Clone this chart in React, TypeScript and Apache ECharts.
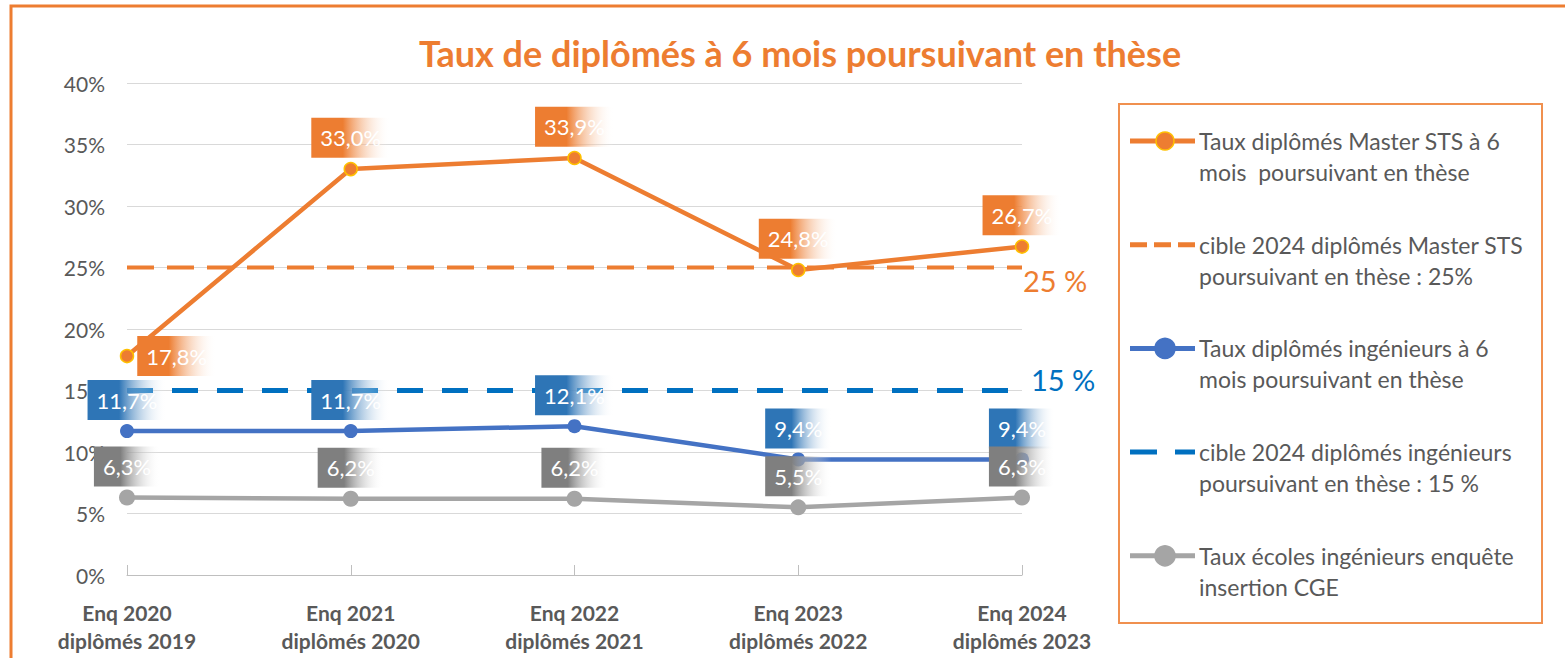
import React, { useEffect, useRef } from 'react';
import * as echarts from 'echarts';

const categories = [
  'Enq 2020\ndiplômés 2019',
  'Enq 2021\ndiplômés 2020',
  'Enq 2022\ndiplômés 2021',
  'Enq 2023\ndiplômés 2022',
  'Enq 2024\ndiplômés 2023',
];
const masterSTS = [17.8, 33.0, 33.9, 24.8, 26.7];
const ingenieurs = [11.7, 11.7, 12.1, 9.4, 9.4];
const ecolesCGE = [6.3, 6.2, 6.2, 5.5, 6.3];
const cibleMaster = [25, 25, 25, 25, 25];
const cibleIngenieurs = [15, 15, 15, 15, 15];

const yMin = 0;
const yMax = 40;
const yInterval = 5;

const titleText = 'Taux de diplômés à 6 mois poursuivant en thèse';
const seriesNames = [
  'Taux diplômés Master STS à 6\nmois  poursuivant en thèse',
  'cible 2024 diplômés Master STS\npoursuivant en thèse : 25%',
  'Taux diplômés ingénieurs à 6\nmois poursuivant en thèse',
  'cible 2024 diplômés ingénieurs\npoursuivant en thèse : 15 %',
  'Taux écoles ingénieurs enquête\ninsertion CGE',
];
const targetLabels = ['25 %', '15 %'];

const ORANGE = '#ED7D31';
const BLUE = '#4472C4';
const TBLUE = '#0070C0';
const GRAY = '#A5A5A5';
const TEXT = '#595959';
const FONT = 'Lato';

const grad = (c: string) =>
  new echarts.graphic.LinearGradient(0, 0, 1, 0, [
    { offset: 0, color: c },
    { offset: 0.4, color: c },
    { offset: 1, color: 'rgba(255,255,255,0)' },
  ]);

const fmt = (p: any) => Number(p.value).toFixed(1).replace('.', ',') + '%';

const labelBase = (c: string, distance: number) => ({
  show: true,
  position: 'top',
  distance,
  formatter: fmt,
  color: '#fff',
  fontSize: 22,
  fontFamily: FONT,
  lineHeight: 24,
  padding: [8, 9, 8, 9],
  backgroundColor: grad(c),
});

export default function App() {
  const ref = useRef<HTMLDivElement>(null);
  useEffect(() => {
    if (!ref.current) return;
    const chart = echarts.init(ref.current, undefined, { renderer: 'svg' });

    const legendItems = [
      { color: ORANGE, width: 5, dash: null, marker: { r: 9, fill: ORANGE, stroke: '#FFC000' } },
      { color: ORANGE, width: 5, dash: [17, 7], marker: null },
      { color: BLUE, width: 5, dash: null, marker: { r: 10, fill: BLUE, stroke: BLUE } },
      { color: TBLUE, width: 5, dash: [27, 18], marker: null },
      { color: GRAY, width: 5, dash: null, marker: { r: 10, fill: GRAY, stroke: GRAY } },
    ];
    const legendGraphics: any[] = [];
    legendItems.forEach((it, i) => {
      const y0 = 141 + i * 103.7;
      legendGraphics.push({
        type: 'line',
        shape: { x1: 1130, y1: y0, x2: 1195, y2: y0 },
        style: { stroke: it.color, lineWidth: it.width, lineDash: it.dash || undefined },
      });
      if (it.marker) {
        legendGraphics.push({
          type: 'circle',
          shape: { cx: 1165, cy: y0, r: it.marker.r },
          style: { fill: it.marker.fill, stroke: it.marker.stroke, lineWidth: 1.5 },
        });
      }
      legendGraphics.push({
        type: 'text',
        x: 1199,
        y: y0 - 15.5,
        style: {
          text: seriesNames[i],
          fontSize: 23,
          fontFamily: FONT,
          lineHeight: 31,
          fill: TEXT,
          verticalAlign: 'top',
        },
      });
    });

    const option: any = {
      animation: false,
      backgroundColor: '#fff',
      title: {
        text: titleText,
        left: 795,
        top: 30,
        textAlign: 'center',
        textStyle: { fontSize: 36, fontWeight: 'bold', color: ORANGE, fontFamily: FONT },
      },
      grid: { left: 127, right: 543, top: 83, bottom: 83, containLabel: false },
      xAxis: {
        type: 'category',
        data: categories,
        boundaryGap: false,
        axisLine: { lineStyle: { color: '#BFBFBF', width: 1 } },
        axisTick: { show: true, inside: true, length: 10, lineStyle: { color: '#BFBFBF' } },
        axisLabel: {
          interval: 0,
          fontSize: 21,
          fontWeight: 'bold',
          color: TEXT,
          fontFamily: FONT,
          lineHeight: 28,
          margin: 23,
        },
        splitLine: { show: false },
      },
      yAxis: {
        type: 'value',
        min: yMin,
        max: yMax,
        interval: yInterval,
        axisLine: { show: false },
        axisTick: { show: false },
        axisLabel: { formatter: '{value}%', fontSize: 21, color: TEXT, fontFamily: FONT, margin: 22 },
        splitLine: { lineStyle: { color: '#D9D9D9', width: 1 } },
      },
      series: [
        {
          name: seriesNames[1],
          type: 'line',
          data: cibleMaster,
          symbol: 'none',
          lineStyle: { color: ORANGE, width: 4, type: [27, 13] },
          endLabel: {
            show: true,
            formatter: targetLabels[0],
            color: ORANGE,
            fontSize: 29,
            fontFamily: FONT,
            offset: [1, 13],
            distance: 0,
          },
          z: 1,
        },
        {
          name: seriesNames[3],
          type: 'line',
          data: cibleIngenieurs,
          symbol: 'none',
          lineStyle: { color: TBLUE, width: 5, type: [26, 19] },
          endLabel: {
            show: true,
            formatter: targetLabels[1],
            color: TBLUE,
            fontSize: 29,
            fontFamily: FONT,
            offset: [9, -11],
            distance: 0,
          },
          z: 1,
        },
        {
          name: seriesNames[0],
          type: 'line',
          data: masterSTS.map((v, i) =>
            i === 0 ? { value: v, label: { position: 'right', distance: 3 } } : v
          ),
          symbol: 'circle',
          symbolSize: 13,
          itemStyle: { color: ORANGE, borderColor: '#FFC000', borderWidth: 1.5 },
          lineStyle: { color: ORANGE, width: 4.5 },
          label: labelBase(ORANGE, 4),
          z: 3,
        },
        {
          name: seriesNames[2],
          type: 'line',
          data: ingenieurs,
          symbol: 'circle',
          symbolSize: 14,
          itemStyle: { color: BLUE },
          lineStyle: { color: BLUE, width: 4.5 },
          label: labelBase('#2E75B6', 4),
          z: 3,
        },
        {
          name: seriesNames[4],
          type: 'line',
          data: ecolesCGE,
          symbol: 'circle',
          symbolSize: 16,
          itemStyle: { color: GRAY },
          lineStyle: { color: GRAY, width: 4.5 },
          label: labelBase('#7F7F7F', 3),
          z: 4,
        },
      ],
      graphic: [
        {
          type: 'rect',
          shape: { x: 11, y: 6, width: 1620, height: 720 },
          style: { fill: 'none', stroke: ORANGE, lineWidth: 3 },
          silent: true,
        },
        {
          type: 'rect',
          shape: { x: 1119, y: 104, width: 423, height: 519 },
          style: { fill: 'none', stroke: '#F0904F', lineWidth: 2 },
          silent: true,
        },
        ...legendGraphics,
      ],
    };
    chart.setOption(option);
    return () => chart.dispose();
  }, []);

  return (
    <div
      ref={ref}
      style={{ position: 'fixed', left: 0, top: 0, width: 1565, height: 658 }}
    />
  );
}
